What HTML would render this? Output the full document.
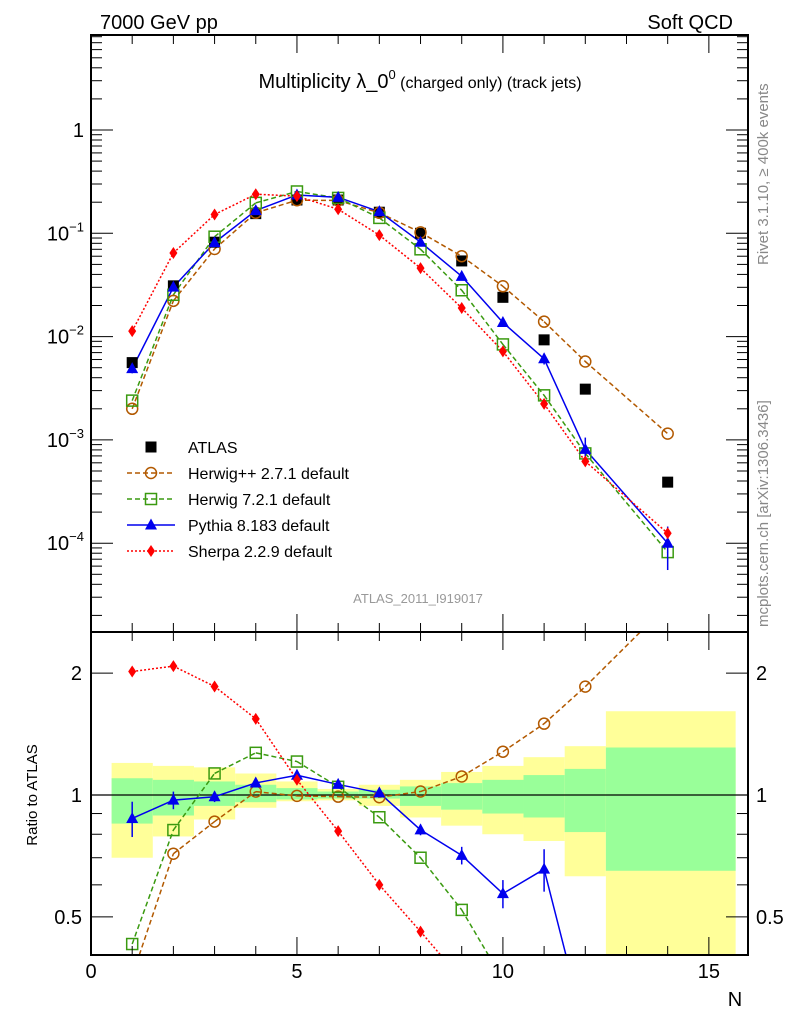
<!DOCTYPE html>
<html><head><meta charset="utf-8"><style>
html,body{margin:0;padding:0;background:#fff;width:786px;height:1024px;overflow:hidden;}
svg{display:block;font-family:"Liberation Sans",sans-serif;}
</style></head><body>
<svg id="chart" width="786" height="1024" viewBox="0 0 786 1024" xmlns="http://www.w3.org/2000/svg">
<defs>
<clipPath id="cm"><rect x="91" y="35" width="657" height="597"/></clipPath>
<clipPath id="cr"><rect x="91" y="632" width="657" height="323"/></clipPath>
</defs>
<g id="bands" clip-path="url(#cr)"></g>
<g id="main" clip-path="url(#cm)"></g>
<g id="ratio" clip-path="url(#cr)"></g>
<g id="axes"></g>
<text x="100" y="29" font-size="20">7000 GeV pp</text>
<text x="733" y="29" font-size="20" text-anchor="end">Soft QCD</text>
<text x="420" y="88" font-size="20" text-anchor="middle">Multiplicity λ_0<tspan font-size="13" dy="-9">0</tspan><tspan font-size="16" dy="9"> (charged only) (track jets)</tspan></text>
<text transform="translate(768,265) rotate(-90)" font-size="15" fill="#888">Rivet 3.1.10, ≥ 400k events</text>
<text transform="translate(768,627) rotate(-90)" font-size="15" fill="#888">mcplots.cern.ch [arXiv:1306.3436]</text>
<text x="418" y="603" font-size="13" fill="#999" text-anchor="middle">ATLAS_2011_I919017</text>
<text transform="translate(37,795) rotate(-90)" font-size="15" text-anchor="middle">Ratio to ATLAS</text>
<text x="735" y="1006" font-size="20" text-anchor="middle">N</text>
<g id="legend"></g>
</svg>
<script>
const N = [1,2,3,4,5,6,7,8,9,10,11,12,14];
const atlas = [5.6e-3,0.031,0.082,0.155,0.21,0.21,0.16,0.1,0.054,0.024,0.0093,0.0031,3.9e-4];
const herwigpp = [2.0e-3,0.0222,0.0705,0.158,0.209,0.208,0.158,0.102,0.060,0.0307,0.01395,0.00574,1.15e-3];
const herwig7 = [2.4e-3,0.0254,0.0927,0.197,0.254,0.22,0.141,0.070,0.0281,0.0084,0.0027,7.4e-4,8.2e-5];
const pythia = [4.9e-3,0.0301,0.0812,0.166,0.235,0.223,0.162,0.082,0.0383,0.0137,0.0061,8.1e-4,1.0e-4];
const sherpa = [0.0113,0.0645,0.152,0.239,0.229,0.171,0.096,0.046,0.0189,0.0072,0.00223,6.2e-4,1.25e-4];
const pythiaErrRel = [0.1,0.05,0.03,0.02,0.01,0.01,0.02,0.03,0.05,0.08,0.12,0.3,0.45];
const binLo = [0.5,1.5,2.5,3.5,4.5,5.5,6.5,7.5,8.5,9.5,10.5,11.5,12.5];
const binHi = [1.5,2.5,3.5,4.5,5.5,6.5,7.5,8.5,9.5,10.5,11.5,12.5,15.65];
const yelHi = [1.20,1.18,1.17,1.13,1.08,1.035,1.06,1.09,1.14,1.18,1.24,1.32,1.61];
const grnHi = [1.10,1.09,1.08,1.06,1.04,1.02,1.03,1.05,1.07,1.09,1.12,1.16,1.31];
const grnLo = [0.85,0.89,0.94,0.96,0.975,0.98,0.98,0.94,0.92,0.90,0.88,0.81,0.65];
const yelLo = [0.70,0.79,0.87,0.93,0.965,0.97,0.94,0.88,0.84,0.80,0.77,0.63,0.30];
const xTicks = [0,5,10,15];
const mainExp = [0,-1,-2,-3,-4];
const ratioTicks = [0.5,1,2];

const NS="http://www.w3.org/2000/svg";
const X0=91,X1=748,XMAX=15.95;
const MT=35,MB=632,RT=632,RB=955;
const sx=v=>X0+(v/XMAX)*(X1-X0);
const sy=v=>130-103.3*Math.log10(v);
const ry=v=>795-405*Math.log10(v);
const clampY=(y,t,b)=>Math.max(t,Math.min(b,y));
function mk(tag,attrs,parent){const e=document.createElementNS(NS,tag);for(const k in attrs)e.setAttribute(k,attrs[k]);parent.appendChild(e);return e;}
// build path d from points, clipping each segment to [top,bottom]
function clipPath(pts,top,bot){
  let d='';
  for(let i=0;i<pts.length-1;i++){
    let [xa,ya]=pts[i],[xb,yb]=pts[i+1];
    if((ya<top&&yb<top)||(ya>bot&&yb>bot))continue;
    const cut=(x1,y1,x2,y2,yl)=>[x1+(x2-x1)*(yl-y1)/(y2-y1),yl];
    let p=[xa,ya],q=[xb,yb];
    if(p[1]<top)p=cut(xa,ya,xb,yb,top);else if(p[1]>bot)p=cut(xa,ya,xb,yb,bot);
    if(q[1]<top)q=cut(xa,ya,xb,yb,top);else if(q[1]>bot)q=cut(xa,ya,xb,yb,bot);
    d+=`M${p[0].toFixed(2)},${p[1].toFixed(2)}L${q[0].toFixed(2)},${q[1].toFixed(2)}`;
  }
  return d||'M0,0';
}
const main=document.getElementById('main'),ratio=document.getElementById('ratio'),bands=document.getElementById('bands'),axes=document.getElementById('axes'),legend=document.getElementById('legend');

binLo.forEach((lo,i)=>{
  const yt=clampY(ry(yelHi[i]),RT,RB),yb=clampY(ry(yelLo[i]),RT,RB);
  let r=mk('rect',{x:sx(lo),y:yt,width:sx(binHi[i])-sx(lo),height:yb-yt,fill:'#ffff99'},bands);
  
  
  const gt=clampY(ry(grnHi[i]),RT,RB),gb=clampY(ry(grnLo[i]),RT,RB);
  let g=mk('rect',{x:sx(lo),y:gt,width:sx(binHi[i])-sx(lo),height:gb-gt,fill:'#99ff99'},bands);
  
  
});
mk('line',{x1:X0,x2:X1,y1:ry(1),y2:ry(1),stroke:'#000','stroke-width':1.2},ratio);

const series=[
 {name:'herwigpp',vals:herwigpp,color:'#b25900',dash:'5,3',marker:'circle',w:1.5},
 {name:'herwig7',vals:herwig7,color:'#3a9a10',dash:'5,3',marker:'square',w:1.5},
 {name:'pythia',vals:pythia,color:'#0000ee',dash:'',marker:'triangle',w:1.5},
 {name:'sherpa',vals:sherpa,color:'#ff0000',dash:'2,2',marker:'diamond',w:1.5}
];
function marker(type,x,y,color,parent){
  let e;
  if(type==='circle')e=mk('circle',{cx:x,cy:y,r:5.5,fill:'none',stroke:color,'stroke-width':1.5},parent);
  else if(type==='square')e=mk('rect',{x:x-5.5,y:y-5.5,width:11,height:11,fill:'none',stroke:color,'stroke-width':1.5},parent);
  else if(type==='triangle')e=mk('polygon',{points:`${x},${y-6.5} ${x-6},${y+4.5} ${x+6},${y+4.5}`,fill:color},parent);
  else if(type==='diamond')e=mk('polygon',{points:`${x},${y-6} ${x-4},${y} ${x},${y+6} ${x+4},${y}`,fill:color},parent);
  else e=mk('rect',{x:x-5.5,y:y-5.5,width:11,height:11,fill:'#000'},parent);
  return e;
}
series.forEach(s=>{
  const pm=s.vals.map((v,i)=>[sx(N[i]),sy(v)]);
  let l=mk('path',{d:clipPath(pm,MT,MB),fill:'none',stroke:s.color,'stroke-width':s.w,'stroke-dasharray':s.dash},main);
  
  
  const pr=s.vals.map((v,i)=>[sx(N[i]),ry(v/atlas[i])]);
  let l2=mk('path',{d:clipPath(pr,RT,RB),fill:'none',stroke:s.color,'stroke-width':s.w,'stroke-dasharray':s.dash},ratio);
  
  
});
atlas.forEach((v,i)=>{
  let m=marker('sq',sx(N[i]),sy(v),'#000',main);
  
  
});
series.forEach(s=>{
  s.vals.forEach((v,i)=>{
    const x=sx(N[i]);
    const r=v/atlas[i];
    if(s.name==='pythia'){
      const e=pythiaErrRel[i];
      mk('line',{x1:x,x2:x,y1:clampY(sy(v*(1+e)),MT,MB),y2:clampY(sy(v*(1-e)),MT,MB),stroke:s.color,'stroke-width':1.5},main);
      const a=clampY(ry(r*(1+e)),RT,RB),b=clampY(ry(r*(1-e)),RT,RB);
      if(b>a)mk('line',{x1:x,x2:x,y1:a,y2:b,stroke:s.color,'stroke-width':1.5},ratio);
    }
    let m=marker(s.marker,x,sy(v),s.color,main);
    
    
    const yr=ry(r);
    if(yr>RT-8&&yr<RB+8){
      let m2=marker(s.marker,x,yr,s.color,ratio);
      
      
    }
  });
});

mk('rect',{x:X0,y:35,width:X1-X0,height:597,fill:'none',stroke:'#000','stroke-width':2},axes);
mk('rect',{x:X0,y:632,width:X1-X0,height:323,fill:'none',stroke:'#000','stroke-width':2},axes);
for(let t=0;t<=XMAX;t+=1){
  const x=sx(t),maj=t%5===0,L=maj?18:9;
  [[35,1],[632,-1],[632,1],[955,-1]].forEach(([y,d])=>mk('line',{x1:x,x2:x,y1:y,y2:y+d*L,stroke:'#000','stroke-width':1},axes));
}
xTicks.forEach(t=>{let e=mk('text',{x:sx(t),y:978,'font-size':20,'text-anchor':'middle'},axes);e.textContent=t;
 
 });
for(let ex=-5;ex<=1;ex++){for(let m=1;m<10;m++){const v=m*Math.pow(10,ex),y=sy(v);if(y<35||y>632)continue;const L=m===1?22:11;
 mk('line',{x1:X0,x2:X0+L,y1:y,y2:y,stroke:'#000'},axes);mk('line',{x1:X1,x2:X1-L,y1:y,y2:y,stroke:'#000'},axes);}}
mainExp.forEach(ex=>{const y=sy(Math.pow(10,ex));let e=mk('text',{x:84,y:y+7,'font-size':20,'text-anchor':'end'},axes);
 if(ex===0)e.textContent='1';else{e.textContent='10';const t=mk('tspan',{dy:-9,'font-size':13},e);t.textContent=String(ex).replace('-','−');}
 
 });
[0.5,0.6,0.7,0.8,0.9,1,2].forEach(v=>{const y=ry(v);const L=(v===0.5||v===1||v===2)?22:11;
 mk('line',{x1:X0,x2:X0+L,y1:y,y2:y,stroke:'#000'},axes);mk('line',{x1:X1,x2:X1-L,y1:y,y2:y,stroke:'#000'},axes);});
ratioTicks.forEach(v=>{const y=ry(v);
 let e=mk('text',{x:82,y:y+7,'font-size':20,'text-anchor':'end'},axes);e.textContent=v;
 
 
 let e2=mk('text',{x:756,y:y+7,'font-size':20},axes);e2.textContent=v;
 
 });

const leg=[['ATLAS','sq','#000',''],['Herwig++ 2.7.1 default','circle','#b25900','5,3'],['Herwig 7.2.1 default','square','#3a9a10','5,3'],['Pythia 8.183 default','triangle','#0000ee',''],['Sherpa 2.2.9 default','diamond','#ff0000','2,2']];
leg.forEach((l,i)=>{const y=447+i*26;
 if(i>0)mk('line',{x1:127,x2:175,y1:y,y2:y,stroke:l[2],'stroke-width':1.5,'stroke-dasharray':l[3]},legend);
 marker(l[1],151,y,l[2],legend);
 let t=mk('text',{x:188,y:y+6,'font-size':16},legend);t.textContent=l[0];
 
 });
</script>
</body></html>
